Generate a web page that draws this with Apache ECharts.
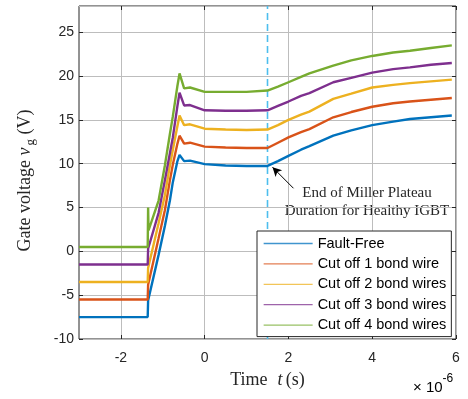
<!DOCTYPE html>
<html>
<head>
<meta charset="utf-8">
<script src="https://cdn.jsdelivr.net/npm/echarts@6/dist/echarts.min.js"></script>
<style>html,body{margin:0;padding:0;background:#fff;}#c{width:468px;height:399px;}</style>
</head>
<body>
<div id="c"></div>
<script>
// time in microseconds (axis shows x 10^-6 s)
const time_us = [-3.0, -1.36, -1.35, -1.34, -1.1, -0.95, -0.83, -0.76, -0.65, -0.6, -0.49, -0.35, 0.0, 0.5, 1.0, 1.5, 1.75, 2.0, 2.3, 2.5, 3.07, 3.5, 4.0, 4.5, 4.9, 5.4, 5.9];
const faultFree = [-7.5, -7.5, -5.6, -5.4, -0.4, 2.9, 5.8, 7.9, 10.3, 11.0, 10.3, 10.35, 9.95, 9.8, 9.75, 9.75, 10.3, 10.9, 11.6, 12.0, 13.2, 13.8, 14.4, 14.8, 15.1, 15.3, 15.5];
const cut1 = [-5.5, -5.5, -3.8, -3.6, 1.5, 4.7, 8.1, 9.9, 12.3, 13.2, 12.3, 12.4, 11.95, 11.85, 11.8, 11.8, 12.4, 13.0, 13.6, 13.95, 15.3, 15.9, 16.5, 16.9, 17.1, 17.3, 17.5];
const cut2 = [-3.5, -3.5, -1.9, -1.7, 3.2, 6.4, 9.8, 11.6, 14.3, 15.5, 14.4, 14.5, 14.0, 13.9, 13.85, 13.9, 14.4, 15.0, 15.6, 15.95, 17.4, 18.0, 18.7, 19.0, 19.2, 19.4, 19.6];
const cut3 = [-1.5, -1.5, 0.3, 0.5, 4.4, 8.1, 11.2, 13.0, 16.6, 18.1, 16.65, 16.7, 16.1, 16.05, 16.05, 16.1, 16.6, 17.1, 17.75, 18.05, 19.3, 19.8, 20.4, 20.8, 21.0, 21.3, 21.5];
const cut4 = [0.5, 0.5, 5.0, 2.4, 5.8, 9.8, 13.4, 15.4, 18.9, 20.3, 18.6, 18.7, 18.2, 18.2, 18.2, 18.35, 18.8, 19.3, 19.9, 20.3, 21.2, 21.8, 22.3, 22.7, 22.9, 23.2, 23.5];

const seriesNames = ['Fault-Free', 'Cut off 1 bond wire', 'Cut off 2 bond wires', 'Cut off 3 bond wires', 'Cut off 4 bond wires'];
const seriesValues = [faultFree, cut1, cut2, cut3, cut4];
const seriesColors = ['#0072BD', '#D95319', '#EDB120', '#7E2F8E', '#77AC30'];

const xTicks = [-2, 0, 2, 4, 6];
const xMin = -3, xMax = 6;
const yMin = -10, yMax = 28, yStep = 5;
const millerEnd_us = 1.5;
const arrowFrom = [2.12, 7.2];
const arrowTo = [1.62, 9.6];

const chart = echarts.init(document.getElementById('c'), null, {renderer: 'canvas'});

const sans = 'Liberation Sans, Arial, sans-serif';
const serif = 'Liberation Serif, Times New Roman, serif';
const gridColor = '#bdbdbd';
const axisColor = '#262626';

const series = [];
// dashed marker line at end of Miller plateau
series.push({
  name: 'millerEnd',
  type: 'line',
  symbol: 'none',
  silent: true,
  data: [[millerEnd_us, yMin], [millerEnd_us, yMax]],
  lineStyle: {color: '#4DBEEE', type: [7, 4], width: 1.6},
  itemStyle: {color: '#4DBEEE'},
  z: 2
});
seriesValues.forEach((vals, k) => series.push({
  name: seriesNames[k],
  type: 'line',
  symbol: 'none',
  data: time_us.map((t, i) => [t, vals[i]]),
  lineStyle: {color: seriesColors[k], width: 2.4},
  itemStyle: {color: seriesColors[k]},
  z: 3 + k
}));
// annotation arrow
series.push({
  name: 'arrow',
  type: 'line',
  data: [],
  silent: true,
  itemStyle: {color: '#000'},
  markLine: {
    silent: true,
    animation: false,
    symbol: ['none', 'arrow'],
    symbolSize: [7, 9],
    lineStyle: {color: '#000', type: 'solid', width: 1},
    itemStyle: {color: '#000'},
    label: {show: false},
    data: [[{coord: arrowFrom}, {coord: arrowTo}]]
  },
  z: 10
});

const tickStyle = {show: true, inside: true, length: 4, lineStyle: {color: axisColor}};

const option = {
  animation: false,
  backgroundColor: '#fff',
  grid: {left: 79, right: 12, top: 6, bottom: 60, show: true, borderColor: axisColor, borderWidth: 1, backgroundColor: 'transparent'},
  xAxis: [{
    type: 'value', min: xMin, max: xMax,
    axisLine: {show: false, onZero: false},
    axisTick: Object.assign({customValues: xTicks}, tickStyle),
    axisLabel: {show: true, customValues: xTicks, color: axisColor, fontFamily: sans, fontSize: 14, margin: 12},
    splitLine: {show: true, lineStyle: {color: gridColor, width: 1}},
    name: '{n|Time}   {i|t} {n|(s)}',
    nameLocation: 'middle', nameGap: 32,
    nameTextStyle: {rich: {n: {fontFamily: serif, fontSize: 18, color: '#262626'}, i: {fontFamily: serif, fontSize: 18, fontStyle: 'italic', color: '#262626'}}}
  }, {
    type: 'value', min: xMin, max: xMax, position: 'top',
    axisLine: {show: false, onZero: false},
    axisTick: Object.assign({customValues: xTicks}, tickStyle),
    axisLabel: {show: false, customValues: xTicks},
    splitLine: {show: false}
  }],
  yAxis: [{
    type: 'value', min: yMin, max: yMax, interval: yStep,
    axisLine: {show: false, onZero: false},
    axisTick: tickStyle,
    axisLabel: {color: axisColor, fontFamily: sans, fontSize: 14, margin: 5, showMaxLabel: false},
    splitLine: {show: true, lineStyle: {color: gridColor, width: 1}},
    name: '{n|Gate voltage }{i|v}{s|g}{n| (V)}',
    nameLocation: 'middle', nameGap: 42, nameRotate: 90,
    nameTextStyle: {padding: [0, 16, 0, 0], rich: {
      n: {fontFamily: serif, fontSize: 18, color: '#262626'},
      i: {fontFamily: serif, fontSize: 18, fontStyle: 'italic', color: '#262626'},
      s: {fontFamily: serif, fontSize: 13, color: '#262626', padding: [10, 0, 0, 2]}
    }}
  }, {
    type: 'value', min: yMin, max: yMax, interval: yStep, position: 'right',
    axisLine: {show: false, onZero: false},
    axisTick: tickStyle,
    axisLabel: {show: false},
    splitLine: {show: false}
  }],
  legend: {
    data: seriesNames,
    orient: 'vertical',
    left: 257, top: 231,
    padding: [5, 5, 4, 6],
    itemGap: 5.4,
    itemWidth: 49, itemHeight: 14,
    backgroundColor: '#fff',
    borderColor: axisColor, borderWidth: 1, borderRadius: 0,
    itemStyle: {opacity: 0},
    lineStyle: {width: 1.3, opacity: 0.75},
    textStyle: {fontFamily: sans, fontSize: 14.5, color: '#000'}
  },
  graphic: [
    {type: 'text', left: 413, top: 373, style: {text: '{a|\u00d7 10}{b|-6}', rich: {a: {fontFamily: sans, fontSize: 15, color: '#262626', padding: [7, 0, 0, 0]}, b: {fontFamily: sans, fontSize: 12, color: '#262626', verticalAlign: 'top'}}}},
    {type: 'text', x: 367, y: 193, style: {text: 'End of Miller Plateau', fontFamily: serif, fontSize: 15, fill: '#262626', align: 'center', verticalAlign: 'middle'}},
    {type: 'text', x: 367, y: 211, style: {text: 'Duration for Healthy IGBT', fontFamily: serif, fontSize: 15, fill: '#262626', align: 'center', verticalAlign: 'middle'}}
  ],
  series: series
};
chart.setOption(option);
</script>
</body>
</html>
